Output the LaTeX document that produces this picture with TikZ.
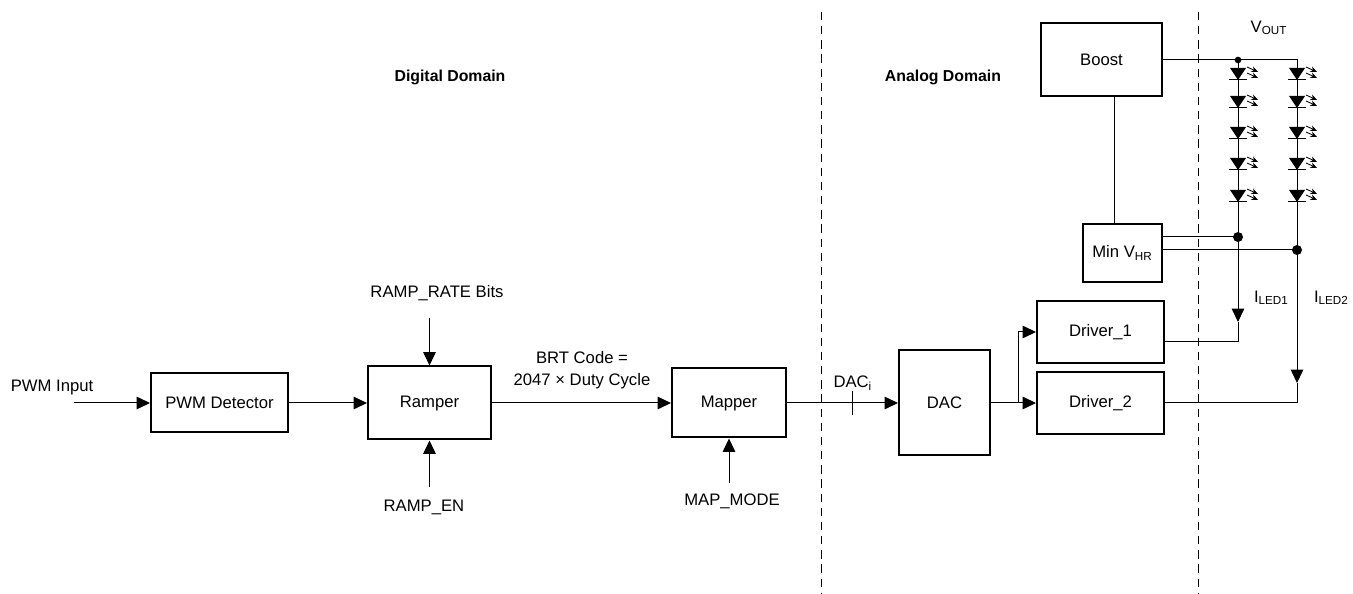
\documentclass[tikz,border=0pt]{standalone}
\usepackage{fontspec}
\setmainfont{Liberation Sans}
\usetikzlibrary{arrows.meta}

\begin{document}
\begin{tikzpicture}[x=0.6pt, y=-0.6pt, line width=0.6pt,
        blk/.style = {draw, line width=1.2pt, inner sep=0pt},
        tip/.style = {-{Triangle[length=8pt, width=7.5pt]}},
        glow/.style = {line width=0.5pt, -{Stealth[length=4pt, width=3.5pt]}},
        jdot/.style = {circle, fill, inner sep=0pt, minimum size=#1},
        sep/.style = {dash pattern=on 5pt off 3.5pt},
        dom/.style = {font=\fontsize{9.5}{11}\selectfont\bfseries}]
    \useasboundingbox (0,0) rectangle (1353,594);

    \node[dom] (dig) at (450,77) {Digital Domain};
    \node[dom] (ana) at (943,77) {Analog Domain};
    \draw[sep] (821,12) -- (821,594);
    \draw[sep] (1198,12) -- (1198,594);

    \node[blk, minimum width=82.2pt, minimum height=35.4pt] (pwmdet) at (219.5,403) {PWM Detector};
    \node[blk, minimum width=73.8pt, minimum height=43.8pt] (ramper) at (429.5,403) {Ramper};
    \node[blk, minimum width=68.4pt, minimum height=41.4pt] (mapper) at (729,403) {Mapper};
    \node[blk, minimum width=54.6pt, minimum height=63pt] (dac) at (944.5,403) {DAC};
    \node[blk, minimum width=76.2pt, minimum height=37.2pt] (drv1) at (1100.5,332) {Driver\_1};
    \node[blk, minimum width=76.2pt, minimum height=37.2pt] (drv2) at (1100.5,403) {Driver\_2};
    \node[blk, minimum width=72.6pt, minimum height=43.8pt] (boost) at (1101.5,60) {Boost};
    \node[blk, minimum width=47.4pt, minimum height=34.8pt] (minvhr) at (1122.5,253) {Min V\textsubscript{HR}};

    \node (pwmin) at (52,387) {PWM Input};
    \node (rrate) at (437,293) {RAMP\_RATE Bits};
    \node (ren) at (424,507) {RAMP\_EN};
    \node (mmode) at (732,501) {MAP\_MODE};
    \node[align=center, font=\fontsize{10}{13.2}\selectfont] (brt) at (582,370) {BRT Code =\\2047 × Duty Cycle};
    \node (vout) at (1269,28) {V\textsubscript{OUT}};
    \node[anchor=west] (iled1) at (1248,298) {I\textsubscript{LED1}};
    \node[anchor=west] (iled2) at (1308,298) {I\textsubscript{LED2}};

    \coordinate (pin) at (74,403);
    \coordinate (rr) at (429.5,318);
    \coordinate (re) at (429.5,487);
    \coordinate (mm) at (729,483);
    \coordinate (sp) at (1018,403);
    \coordinate (vout1) at (1238,60);
    \coordinate (vout2) at (1297,60);
    \coordinate (j1) at (1238,237);
    \coordinate (j2) at (1297,250);
    \coordinate (t1) at (1238,322);
    \coordinate (t2) at (1297,383);
    \coordinate (i1) at (1238,342);
    \coordinate (i2) at (1297,403);

    \draw[tip] (pin) -- (pwmdet.west);
    \draw[tip] (pwmdet.east) -- (ramper.west);
    \draw[tip] (rr) -- (ramper.north);
    \draw[tip] (re) -- (ramper.south);
    \draw[tip] (ramper.east) -- (mapper.west);
    \draw[tip] (mm) -- (mapper.south);
    \draw[tip] (mapper.east) -- coordinate[pos=0.593] (tk) (dac.west);
    \draw ([yshift=7.2pt]tk) -- ([yshift=-7.2pt]tk);
    \node (daci) at ([yshift=12pt]tk) {DAC\textsubscript{i}};
    \draw[tip] (dac.east) -- (drv2.west);
    \draw[tip] (sp) |- (drv1.west);

    \draw (boost.east) -- (vout2) -- (j2);
    \draw (vout1) -- (j1);
    \draw ([xshift=-5pt]minvhr.north) -- ([xshift=-5pt]minvhr.north |- boost.south);
    \draw (j1 -| minvhr.east) -- (j1);
    \draw (j2 -| minvhr.east) -- (j2);
    \draw[tip] (j1) -- (t1);
    \draw (t1) -- (i1) -- (i1 -| drv1.east);
    \draw[tip] (j2) -- (t2);
    \draw (t2) -- (i2) -- (drv2.east);

    \node[jdot=4pt] at (vout1) {};
    \node[jdot=6pt] at (j1) {};
    \node[jdot=6pt] at (j2) {};

    \foreach \x in {1238,1297}
        \foreach \y in {74,102,133,164,196} {
            \fill (\x-8,\y-6) -- (\x+8,\y-6) -- (\x,\y+6) -- cycle;
            \draw (\x-9,\y+6) -- (\x+9,\y+6);
            \draw[glow] (\x+9,\y-7) -- ++(11,5);
            \draw[glow] (\x+9,\y-1) -- ++(11,5);
        }
\end{tikzpicture}
\end{document}
